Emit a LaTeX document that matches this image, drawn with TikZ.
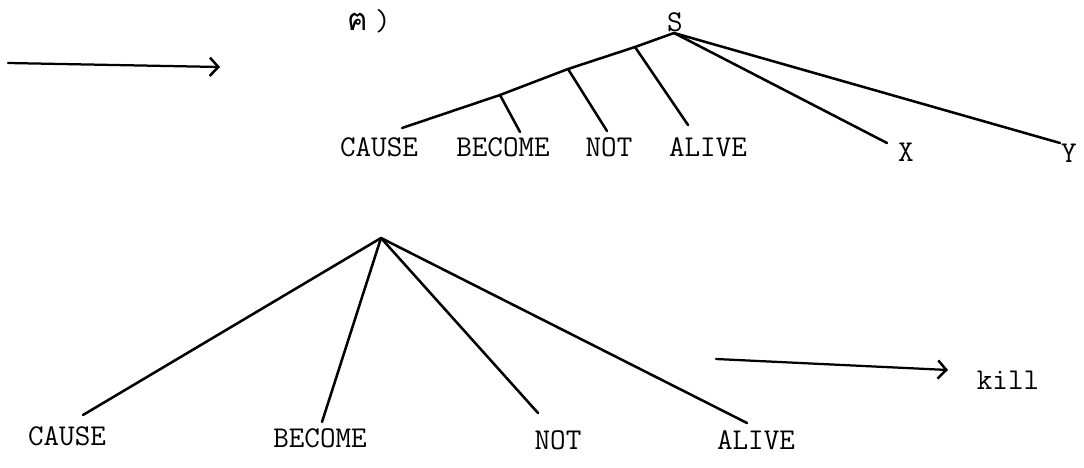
\documentclass[tikz,border=0pt]{standalone}
\usepackage{fontspec}
\newfontfamily\thaifont[Script=Thai]{Loma}
\usetikzlibrary{arrows.meta}
\begin{document}
\begin{tikzpicture}[x=0.025cm,y=-0.025cm,
  lbl/.style={font=\ttfamily\fontsize{21.5}{24}\selectfont, inner sep=0pt, anchor=center},
  branch/.style={line width=1.8pt, line cap=round},
  arr/.style={line width=1.6pt, line cap=round, -{Straight Barb[length=6pt,width=13pt,line width=1.8pt]}}]
\useasboundingbox (0,0) rectangle (1084,467);
% top-left arrow
\coordinate (a1s) at (8,63);
\coordinate (a1e) at (220,67);
\draw[arr] (a1s) -- (a1e);
% label
\node[inner sep=0pt] (item) at (369,21) {{\thaifont\fontsize{22}{24}\selectfont ฅ}\hspace{5pt}{\ttfamily\fontsize{21.5}{24}\selectfont )}};
% top tree
\node[lbl] (S) at (675,22) {S};
\coordinate (top) at (674,33);
\coordinate (p1) at (635,47);
\coordinate (p2) at (568,69);
\coordinate (p3) at (500,95);
\coordinate (eC) at (402,128);
\coordinate (eB) at (520,132);
\coordinate (eN) at (607,131);
\coordinate (eA) at (688,125);
\coordinate (eX) at (887,143);
\coordinate (eY) at (1060,143);
\node[lbl] (tC) at (379,147) {CAUSE};
\node[lbl] (tB) at (503,147) {BECOME};
\node[lbl] (tN) at (609,147) {NOT};
\node[lbl] (tA) at (708,147) {ALIVE};
\node[lbl] (tX) at (906,152) {X};
\node[lbl] (tY) at (1069,153) {Y};
\draw[branch] (top) -- (p1) -- (p2) -- (p3) -- (eC);
\draw[branch] (p3) -- (eB);
\draw[branch] (p2) -- (eN);
\draw[branch] (p1) -- (eA);
\draw[branch] (top) -- (eX);
\draw[branch] (top) -- (eY);
% bottom tree
\coordinate (bt) at (381,238);
\coordinate (bC) at (83,415);
\coordinate (bB) at (322,422);
\coordinate (bN) at (538,413);
\coordinate (bA) at (747,423);
\node[lbl] (lC) at (67,436) {CAUSE};
\node[lbl] (lB) at (320,438) {BECOME};
\node[lbl] (lN) at (558,440) {NOT};
\node[lbl] (lA) at (756,440) {ALIVE};
\draw[branch] (bt) -- (bC);
\draw[branch] (bt) -- (bB);
\draw[branch] (bt) -- (bN);
\draw[branch] (bt) -- (bA);
% bottom arrow
\coordinate (a2s) at (716,359);
\coordinate (a2e) at (948,370);
\draw[arr] (a2s) -- (a2e);
\node[lbl] (kill) at (1008,380) {kill};
\end{tikzpicture}
\end{document}
